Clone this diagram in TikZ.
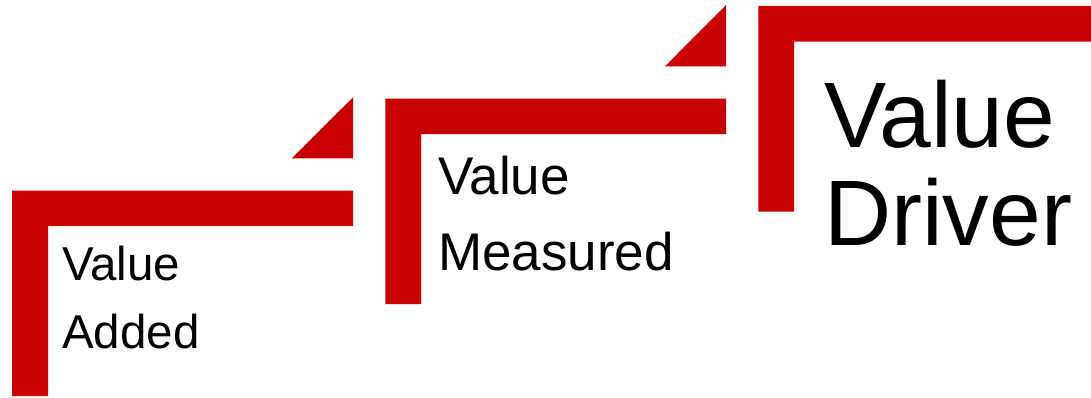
\documentclass[tikz,border=0pt]{standalone}
\usepackage{fontspec}
\setmainfont{Liberation Sans}
\definecolor{vred}{HTML}{C80000}
\tikzset{
  bracket/.style={fill=vred, draw=none},
  label/.style={inner sep=0pt, anchor=base west, align=left, text=black}
}
\begin{document}
\begin{tikzpicture}[x=1pt,y=1pt]
\useasboundingbox (0,0) rectangle (1091,397);
% step 1
\fill[bracket] (12,1) -- (12,206.3) -- (353,206.3) -- (353,171) -- (48,171) -- (48,1) -- cycle;
\fill[bracket] (291.7,238.7) -- (353,238.7) -- (353,299.7) -- cycle;
% step 2
\fill[bracket] (385.3,93) -- (385.3,298.3) -- (726,298.3) -- (726,263) -- (421,263) -- (421,93) -- cycle;
\fill[bracket] (665,330.7) -- (726,330.7) -- (726,392) -- cycle;
% step 3
\fill[bracket] (758.3,185.3) -- (758.3,391) -- (1091,391) -- (1091,355.3) -- (794,355.3) -- (794,185.3) -- cycle;
% texts (anchor at baseline of the last line)
\node[label, font=\fontsize{47.5}{68}\selectfont] (added) at (62,49) {Value\\Added};
\node[label, font=\fontsize{53}{76}\selectfont] (measured) at (438,127) {Value\\Measured};
\node[label, font=\fontsize{93}{98}\selectfont] (driver) at (824,152) {Value\\Driver};
\end{tikzpicture}
\end{document}
